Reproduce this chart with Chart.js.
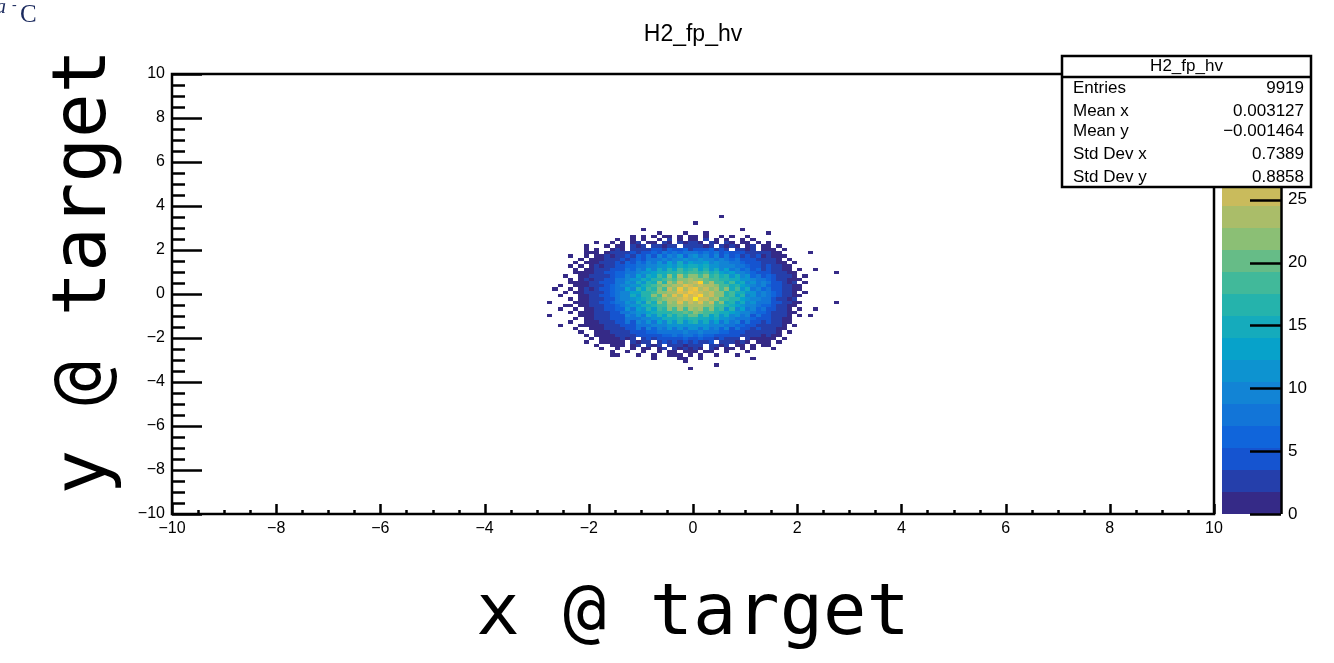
<!DOCTYPE html>
<html>
<head>
<meta charset="utf-8">
<script src="https://cdn.jsdelivr.net/npm/chart.js@4.4.1/dist/chart.umd.min.js"></script>
<style>
  html, body { margin: 0; padding: 0; background: #fff; }
</style>
</head>
<body>
<canvas id="myChart" width="1334" height="663"></canvas>
<script>
// histogram setup
const histTitle = 'H2_fp_hv';
const xLabel = 'x @ target';
const yLabel = ' y @ target';
const xBinWidth = 0.1;
const yBinWidth = 0.15;
const firstColX = -2.8;   // left edge of first column
const firstRowTop = 3.6;  // top edge of first row
const zMax = 35;
const zLevels = 20;

// bin contents, one row per y bin (top to bottom),
// four chunks of 14 x bins each. '.' = empty, 1-9, a=10 ... z=35
const countRows = [
  ['..............', '..............', '.....1........', '..............'],
  ['..............', '..............', '..............', '..............'],
  ['..............', '..............', '1.............', '..............'],
  ['..............', '..............', '..............', '..............'],
  ['..............', '....1.........', '.........1....', '..............'],
  ['..............', '.......1....1.', '..1...........', '1.............'],
  ['..............', '..1.1.1.11.1.1', '1.1..1.1..1...', '..............'],
  ['.............1', '..1.1..1.2.1.1', '1.2.1.1..1.1..', '..............'],
  ['.........1..1.', '1.12.11.21.212', '21.21.21.11.1.', '1.............'],
  ['.......1...1.1', '1.212.23132.32', '3213.2121.12.1', '1.1...........'],
  ['.......1.1..12', '1.223345264463', '5456353.3312.1', '11.1..........'],
  ['.......111.122', '32435465768678', '76867564543322', '211.....1.....'],
  ['....1..1.11213', '253647596a7b6a', 'b796a584635241', '2111..........'],
  ['......1.111232', '4356578798a9b9', 'ab9a8976754433', '221.1.........'],
  ['.....1.1112234', '3658697b8d9ead', 'cbdab998765443', '3211.1........'],
  ['....1.1.121334', '56688a9cbdcedf', 'edebca9a776453', '42211.........'],
  ['.....1.1122345', '586a8dafbhdieg', 'idhbf9d8a68463', '43211.1..1....'],
  ['.....111122446', '688abcdfeghihj', 'ihifgdcda98655', '533211.......1'],
  ['...1..11223356', '6a8dafdiflhnim', 'milgjehce9b684', '643221.1......'],
  ['....1.12133457', '89bbedghikjmln', 'mlkijghefcb987', '6532111.......'],
  ['....1111224457', '7c9fchflhnkplo', 'qvkoijejdfac79', '754312.1......'],
  ['..1..111233567', '9accfgikllnorp', 'oqnoljifgdba89', '6543211.......'],
  ['.1..1.12134468', '8dagdjgmjplsor', 'tnqmoilejce8a6', '7542211.......'],
  ['...1.112233567', 'aaddghjlmonrqt', 'rqoplmhiefbc89', '864321.1......'],
  ['..1...11224468', 'a9echgliplrotp', 'ruoqlmhjdgac79', '7642211.......'],
  ['....1.11233557', 'aacdfgiklnoprq', 'xqpmnjiggdca97', '753312........'],
  ['1....111224467', '7c9fcifliolrmq', 'orlpilfhcf9b78', '7542211......1'],
  ['...11.11223456', '89bcefhijllnmn', 'onlmjigfdca986', '643311........'],
  ['..1..1.1123456', '6b8dbgdjglinjo', 'lnilgjchad8a68', '54321.1..1....'],
  ['....1.11123355', '789bbdeghhjjkj', 'lkjigfedca9866', '533211........'],
  ['1.....11123345', '597c8ebgdifjgk', 'kfjdhbe9c79574', '53221.1.1.....'],
  ['.....1.1122344', '5778aacceefgfg', 'gffdebca887654', '43211.........'],
  ['....1..1112234', '475a7b8dafbgcf', 'gcfad8c7957452', '42211.........'],
  ['..1...11111233', '45577899abbcbc', 'cbcaa988665433', '3221.1........'],
  ['.....1..111223', '2547596a7b8c8b', 'c8b7a695745242', '3211..........'],
  ['......1..11122', '33445667787898', '89877665443322', '221.1.........'],
  ['.......1.11112', '23344455667677', '67665544432221', '211...........'],
  ['........1.1111', '212.3434554565', '564534323.2111', '11.1..........'],
  ['.......1..1111', '1.2123.3424343', '4324.322121.11', '1.1...........'],
  ['.........1..11', '1.12.213.32312', '23.3212.11.1.1', '1.............'],
  ['..........1..1', '..1.11.12.2121', '21.21.11.1.1..', '.1............'],
  ['............1.', '.1..1..1.11.11', '1.11..1...1...', '..............'],
  ['............11', '...1..1..111.1', '.1..1...1.....', '..............'],
  ['..............', '......1....11.', '.1.........1..', '..............'],
  ['..............', '............1.', '..............', '..............'],
  ['..............', '..............', '....1.........', '..............'],
  ['..............', '.............1', '..............', '..............']
];

// stats box
const statLabels = ['Entries', 'Mean x', 'Mean y', 'Std Dev x', 'Std Dev y'];
const statValues = ['9919', '0.003127', '\u22120.001464', '0.7389', '0.8858'];

// palette (kBird, 20 levels)
const paletteColors = [
  '#352a87', '#253fab', '#1554d0', '#1065db', '#1275d8', '#1284d5', '#0d93d0', '#07a2ca',
  '#15abbc', '#25b3ac', '#41b99a', '#66bc87', '#8bbf75', '#aabd69', '#c9bb5c', '#dfbf4d',
  '#f2c53c', '#fdd02c', '#fbe61d', '#f9fb0e'
];

const tickFont = "'Liberation Sans', Arial, Helvetica, sans-serif";
const bigFont = "'DejaVu Sans Mono', monospace";

// build cells from the rows
const cells = [];
countRows.forEach((chunks, r) => {
  const row = chunks.join('');
  for (let c = 0; c < row.length; c++) {
    if (row[c] === '.') continue;
    cells.push({
      x: firstColX + (c + 0.5) * xBinWidth,
      y: firstRowTop - (r + 0.5) * yBinWidth,
      v: parseInt(row[c], 36)
    });
  }
});

function levelColor(v) {
  let i = Math.floor(v / (zMax / zLevels));
  if (i > zLevels - 1) i = zLevels - 1;
  return paletteColors[i];
}

function fmt(value) {
  return value < 0 ? '\u2212' + Math.abs(value) : String(value);
}

// draws the colz cells
const cellPlugin = {
  id: 'cells',
  beforeDatasetsDraw(chart) {
    const { ctx, scales: { x, y } } = chart;
    ctx.save();
    chart.data.datasets[0].data.forEach(p => {
      const x0 = Math.round(x.getPixelForValue(p.x - xBinWidth / 2));
      const x1 = Math.round(x.getPixelForValue(p.x + xBinWidth / 2));
      const y0 = Math.round(y.getPixelForValue(p.y + yBinWidth / 2));
      const y1 = Math.round(y.getPixelForValue(p.y - yBinWidth / 2));
      ctx.fillStyle = levelColor(p.v);
      ctx.fillRect(x0, y0, x1 - x0, y1 - y0);
    });
    ctx.restore();
  }
};

// frame, ROOT style ticks, palette
const framePlugin = {
  id: 'frame',
  afterDatasetsDraw(chart) {
    const { ctx, chartArea: a, scales: { x, y, z } } = chart;
    ctx.save();
    ctx.strokeStyle = '#000';
    ctx.lineWidth = 2.5;
    ctx.strokeRect(a.left, a.top, a.right - a.left, a.bottom - a.top);

    ctx.beginPath();
    for (let v = -10; v <= 10; v += 0.5) {
      const major = v % 2 === 0;
      const py = Math.round(y.getPixelForValue(v)) + 0.5;
      ctx.moveTo(a.left, py);
      ctx.lineTo(a.left + (major ? 30 : 13), py);
      const px = Math.round(x.getPixelForValue(v)) + 0.5;
      ctx.moveTo(px, a.bottom);
      ctx.lineTo(px, a.bottom - (major ? 10 : 4));
    }
    ctx.stroke();

    // palette
    const pl = 1222, pr = 1281;
    const step = zMax / zLevels;
    for (let i = 0; i < zLevels; i++) {
      const t = Math.round(z.getPixelForValue((i + 1) * step));
      const b = Math.round(z.getPixelForValue(i * step));
      ctx.fillStyle = paletteColors[i];
      ctx.fillRect(pl, t, pr - pl, b - t);
    }
    ctx.beginPath();
    ctx.moveTo(pr + 0.5, z.getPixelForValue(0));
    ctx.lineTo(pr + 0.5, z.getPixelForValue(zMax));
    z.ticks.forEach(tk => {
      const py = Math.round(z.getPixelForValue(tk.value)) + 0.5;
      ctx.moveTo(pr, py);
      ctx.lineTo(pr - 31, py);
    });
    ctx.stroke();
    ctx.restore();
  }
};

// stats box and the corner text
const statsPlugin = {
  id: 'stats',
  afterDraw(chart) {
    const { ctx } = chart;
    const bx = 1062, by = 56, bw = 249, bh = 131;
    ctx.save();
    ctx.fillStyle = '#fff';
    ctx.fillRect(bx, by, bw, bh);
    ctx.strokeStyle = '#000';
    ctx.lineWidth = 2.5;
    ctx.strokeRect(bx, by, bw, bh);
    ctx.beginPath();
    ctx.moveTo(bx, by + 21);
    ctx.lineTo(bx + bw, by + 21);
    ctx.stroke();

    ctx.fillStyle = '#000';
    ctx.font = '17px ' + tickFont;
    ctx.textBaseline = 'alphabetic';
    ctx.textAlign = 'center';
    ctx.fillText(histTitle, bx + bw / 2, by + 15);
    const rowsY = [93, 116, 136, 159, 182];
    statLabels.forEach((lab, i) => {
      ctx.textAlign = 'left';
      ctx.fillText(lab, bx + 11, rowsY[i]);
      ctx.textAlign = 'right';
      ctx.fillText(statValues[i], bx + bw - 7, rowsY[i]);
    });

    ctx.fillStyle = '#1b2a5e';
    ctx.textAlign = 'left';
    ctx.font = 'italic 20px "Liberation Serif", serif';
    ctx.fillText('a', -4, 13);
    ctx.font = '14px "Liberation Serif", serif';
    ctx.fillText('-', 12, 9);
    ctx.font = '25px "Liberation Serif", serif';
    ctx.fillText('C', 20, 22);
    ctx.restore();
  }
};

const axisTicks = { family: tickFont, size: 16 };

const config = {
  type: 'scatter',
  data: {
    datasets: [{
      label: histTitle,
      data: cells,
      pointRadius: 0,
      pointHoverRadius: 0
    }]
  },
  options: {
    responsive: false,
    animation: false,
    events: [],
    layout: { padding: 0 },
    plugins: {
      legend: { display: false },
      tooltip: { enabled: false },
      title: {
        display: true,
        text: histTitle,
        fullSize: false,
        color: '#000',
        font: { family: tickFont, size: 23, weight: 'normal', lineHeight: 1.2 },
        padding: { top: 21, bottom: 25.4 }
      }
    },
    scales: {
      x: {
        type: 'linear',
        position: 'bottom',
        min: -10,
        max: 10,
        afterFit(scale) { scale.height = 149; },
        grid: { display: false, drawTicks: false },
        border: { display: false },
        ticks: { stepSize: 2, padding: 5, maxRotation: 0, autoSkip: false, color: '#000', font: axisTicks, callback: fmt },
        title: { display: true, text: xLabel, color: '#000', font: { family: bigFont, size: 72 }, padding: { top: 0, bottom: 5 } }
      },
      y: {
        type: 'linear',
        position: 'left',
        min: -10,
        max: 10,
        afterFit(scale) { scale.width = 172; },
        grid: { display: false, drawTicks: false },
        border: { display: false },
        ticks: { stepSize: 2, padding: 7, autoSkip: false, color: '#000', font: axisTicks, callback: fmt },
        title: { display: true, text: yLabel, color: '#000', font: { family: bigFont, size: 74 }, padding: { top: 41, bottom: 0 } }
      },
      z: {
        type: 'linear',
        position: 'right',
        min: 0,
        max: zMax,
        afterFit(scale) {
          scale.width = 120;
          scale.paddingTop = 10;
          scale.paddingBottom = 10;
        },
        grid: { display: false, drawTicks: false },
        border: { display: false },
        ticks: { stepSize: 5, padding: 74, autoSkip: false, color: '#000', font: { family: tickFont, size: 17 } }
      }
    }
  },
  plugins: [cellPlugin, framePlugin, statsPlugin]
};

const myChart = new Chart(document.getElementById('myChart').getContext('2d'), config);
</script>
</body>
</html>
